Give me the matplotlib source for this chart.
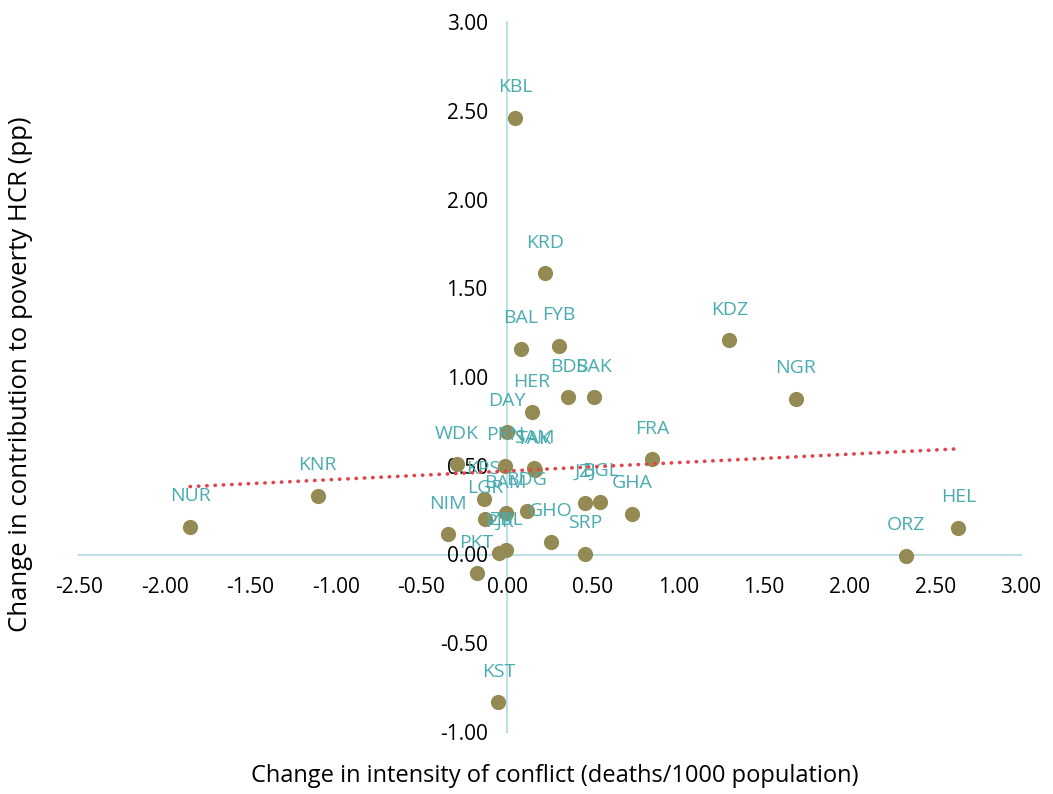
import matplotlib
matplotlib.use("Agg")
import matplotlib.pyplot as plt
import numpy as np
from matplotlib.ticker import FormatStrFormatter, MultipleLocator

plt.rcParams['font.family'] = ['Open Sans', 'DejaVu Sans']

labels = ["KBL", "KRD", "BAL", "FYB", "BDS", "BAK", "HER", "DAY", "KDZ", "NGR",
          "FRA", "GHA", "BGL", "JZJ", "HEL", "ORZ", "NUR", "KNR", "WDK", "PRN",
          "SAM", "TAK", "KPS", "LGR", "BAM", "BDG", "NIM", "GHO", "SRP", "PKT",
          "ZBL", "PJR", "KST"]
conflict_change = [0.047, 0.220, 0.078, 0.302, 0.358, 0.504, 0.144, -0.002, 1.298, 1.685,
                   0.848, 0.728, 0.543, 0.454, 2.635, 2.331, -1.851, -1.107, -0.294, -0.013,
                   0.158, 0.160, -0.138, -0.128, -0.008, 0.115, -0.343, 0.255, 0.454, -0.179,
                   -0.004, -0.047, -0.051]
hcr_change = [2.459, 1.584, 1.159, 1.176, 0.887, 0.887, 0.801, 0.692, 1.208, 0.876,
              0.536, 0.228, 0.297, 0.292, 0.151, -0.008, 0.157, 0.331, 0.508, 0.499,
              0.487, 0.476, 0.311, 0.200, 0.232, 0.247, 0.114, 0.072, 0.003, -0.106,
              0.025, 0.010, -0.833]

x = np.array(conflict_change)
y = np.array(hcr_change)

fig = plt.figure(figsize=(10.53, 7.94), dpi=100)
ax = fig.add_axes([79 / 1053, 1 - 732 / 794, (1021 - 79) / 1053, (732 - 22) / 794])

marker_col = '#948A54'
label_col = '#4BACB0'
axis_col = '#BCE0E3'

ax.scatter(x, y, s=120, color=marker_col, zorder=3, linewidths=0)

for lab, xi, yi in zip(labels, x, y):
    ax.annotate(lab, (xi, yi), xytext=(0, 22), textcoords='offset points',
                ha='center', va='center', color=label_col, fontsize=14, zorder=4)

# linear trend line
slope, intercept = np.polyfit(x, y, 1)
xt = np.array([x.min(), x.max()])
ax.plot(xt, slope * xt + intercept, color='#E0454B', lw=2.6,
        linestyle=(0, (0.1, 2.2)), dash_capstyle='round', zorder=5)

ax.set_xlim(-2.5, 3.0)
ax.set_ylim(-1.0, 3.0)
ax.xaxis.set_major_locator(MultipleLocator(0.5))
ax.yaxis.set_major_locator(MultipleLocator(0.5))
ax.xaxis.set_major_formatter(FormatStrFormatter('%.2f'))
ax.yaxis.set_major_formatter(FormatStrFormatter('%.2f'))

for s in ['top', 'right']:
    ax.spines[s].set_visible(False)
ax.spines['left'].set_position(('data', 0))
ax.spines['bottom'].set_position(('data', 0))
ax.spines['left'].set_color(axis_col)
ax.spines['bottom'].set_color(axis_col)
ax.spines['left'].set_linewidth(1.5)
ax.spines['bottom'].set_linewidth(1.5)
ax.spines['left'].set_zorder(1)
ax.spines['bottom'].set_zorder(1)
ax.tick_params(axis='x', length=0, pad=16, labelsize=15, colors='black')
ax.tick_params(axis='y', length=0, pad=14, labelsize=15, colors='black')
ax.patch.set_alpha(0)

fig.text(555 / 1053, 1 - 776 / 794, 'Change in intensity of conflict (deaths/1000 population)',
         ha='center', va='center', fontsize=17, color='black')
fig.text(21 / 1053, 1 - 374 / 794, 'Change in contribution to poverty HCR (pp)',
         ha='center', va='center', rotation=90, fontsize=18.5, color='black')

fig.savefig('out.png', dpi=100)
